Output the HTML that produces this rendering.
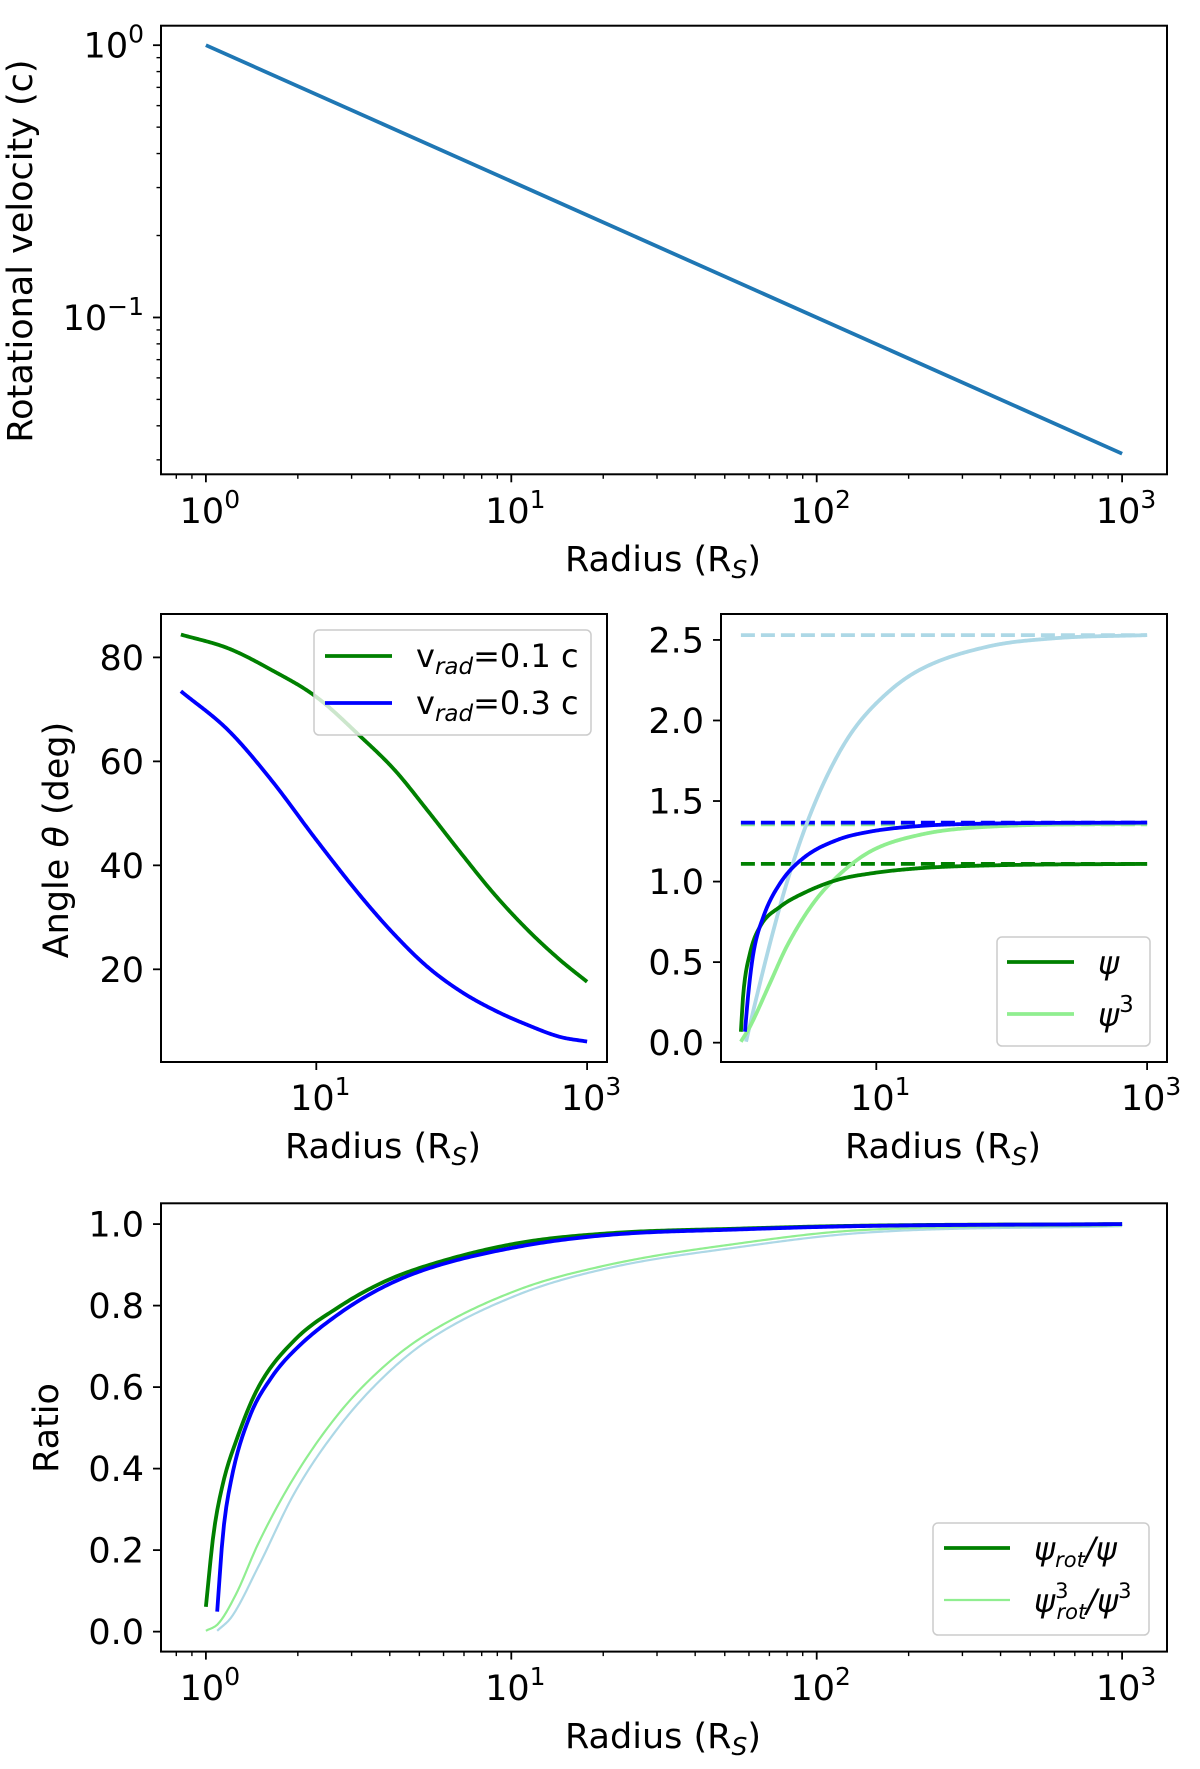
<!DOCTYPE html>
<html><head><meta charset="utf-8">
<style>
html,body{margin:0;padding:0;background:#fff;}
svg{display:block;font-family:"DejaVu Sans","Liberation Sans",sans-serif;}
</style></head>
<body>
<svg id="fig" width="1200" height="1769" viewBox="0 0 1200 1769" xmlns="http://www.w3.org/2000/svg"></svg>
<script>
// ---------- data ----------
const rotLogR = [0, 3];
const rotVel = [1.0, 0.0316];
// panel 2: angle theta vs log10(radius)
const thetaV01R = [0, 0.349, 0.668, 1.0, 1.33, 1.58, 1.82, 2.07, 2.31, 2.56, 2.8, 3];
const thetaV01 = [84.4, 81.75, 77.6, 72.4, 64.7, 58.3, 50.6, 42.3, 34.6, 27.6, 21.8, 17.6];
const thetaV03R = [0, 0.349, 0.668, 1.0, 1.33, 1.58, 1.82, 2.07, 2.31, 2.56, 2.8, 3];
const thetaV03 = [73.5, 66.0, 56.4, 44.9, 34.0, 26.6, 20.5, 15.7, 12.2, 9.3, 7.0, 6.1];
// panel 3: psi curves
const psiGreenR = [0, 0.018, 0.067, 0.141, 0.29, 0.46, 0.71, 0.954, 1.32, 1.82, 3];
const psiGreenV = [0.068, 0.307, 0.555, 0.72, 0.844, 0.927, 1.01, 1.05, 1.083, 1.10, 1.11];
const psiBlueR = [0.03, 0.055, 0.092, 0.166, 0.29, 0.46, 0.71, 0.954, 1.32, 1.82, 3];
const psiBlueV = [0.068, 0.307, 0.555, 0.782, 0.99, 1.145, 1.258, 1.31, 1.345, 1.36, 1.366];
const psi3GreenR = [0, 0.067, 0.215, 0.338, 0.535, 0.71, 0.954, 1.32, 1.82, 3];
const psi3GreenV = [0.006, 0.1, 0.37, 0.596, 0.866, 1.03, 1.186, 1.29, 1.34, 1.36];
const psi3BlueR = [0.038, 0.092, 0.215, 0.338, 0.486, 0.658, 0.83, 1.077, 1.32, 1.82, 2.31, 3];
const psi3BlueV = [0.006, 0.2, 0.617, 0.99, 1.36, 1.693, 1.94, 2.168, 2.314, 2.458, 2.51, 2.53];
const asymptotes = [1.11, 1.355, 1.366, 2.53];
// panel 4: ratios
const ratioGreenR = [0, 0.025, 0.056, 0.1, 0.172, 0.29, 0.436, 0.582, 0.728, 1.02, 1.312, 1.75, 2.14, 3];
const ratioGreenV = [0.061, 0.24, 0.364, 0.47, 0.60, 0.715, 0.797, 0.858, 0.899, 0.953, 0.977, 0.989, 0.996, 1.0];
const ratioBlueR = [0.037, 0.056, 0.085, 0.143, 0.216, 0.29, 0.436, 0.582, 0.728, 1.02, 1.312, 1.75, 2.14, 3];
const ratioBlueV = [0.049, 0.24, 0.38, 0.527, 0.625, 0.69, 0.78, 0.846, 0.891, 0.944, 0.973, 0.987, 0.995, 1.0];
const ratio3GreenR = [0, 0.041, 0.1, 0.172, 0.29, 0.436, 0.582, 0.728, 1.02, 1.312, 1.75, 2.14, 3];
const ratio3GreenV = [0.002, 0.02, 0.094, 0.217, 0.38, 0.536, 0.65, 0.732, 0.838, 0.899, 0.953, 0.985, 0.997];
const ratio3BlueR = [0.037, 0.085, 0.172, 0.29, 0.436, 0.582, 0.728, 1.02, 1.312, 1.75, 2.14, 3];
const ratio3BlueV = [0.002, 0.037, 0.16, 0.34, 0.503, 0.625, 0.715, 0.826, 0.891, 0.944, 0.978, 0.995];
const thetaTicks = [20, 40, 60, 80];
const psiTicks = [0, 0.5, 1.0, 1.5, 2.0, 2.5];
const ratioTicks = [0, 0.2, 0.4, 0.6, 0.8, 1.0];

const NS = "http://www.w3.org/2000/svg";
const svg = document.getElementById('fig');
function el(tag, attrs, parent) {
  const e = document.createElementNS(NS, tag);
  for (const k in attrs) e.setAttribute(k, attrs[k]);
  (parent || svg).appendChild(e);
  return e;
}
function linScale(d0, d1, r0, r1) { return v => r0 + (v - d0) / (d1 - d0) * (r1 - r0); }

function monotone(xs, ys) {
  const n = xs.length, d = [], m = [];
  for (let i = 0; i < n - 1; i++) d.push((ys[i+1]-ys[i])/(xs[i+1]-xs[i]));
  m[0] = d[0]; m[n-1] = d[n-2];
  for (let i = 1; i < n - 1; i++) m[i] = (d[i-1]*d[i] <= 0) ? 0 : (d[i-1]+d[i])/2;
  for (let i = 0; i < n - 1; i++) {
    if (d[i] === 0) { m[i] = 0; m[i+1] = 0; continue; }
    const a = m[i]/d[i], b = m[i+1]/d[i], s = a*a + b*b;
    if (s > 9) { const t = 3/Math.sqrt(s); m[i] = t*a*d[i]; m[i+1] = t*b*d[i]; }
  }
  return x => {
    let i = 0; while (i < n - 2 && x > xs[i+1]) i++;
    const h = xs[i+1]-xs[i], t = (x-xs[i])/h;
    const h00 = 2*t*t*t-3*t*t+1, h10 = t*t*t-2*t*t+t, h01 = -2*t*t*t+3*t*t, h11 = t*t*t-t*t;
    return h00*ys[i]+h10*h*m[i]+h01*ys[i+1]+h11*h*m[i+1];
  };
}
function curvePath(xs, ys, sx, sy) {
  const f = monotone(xs, ys);
  const x0 = xs[0], x1 = xs[xs.length-1];
  let d = '';
  for (let k = 0; k <= 400; k++) {
    const x = x0 + (x1 - x0) * k / 400;
    d += (k ? 'L' : 'M') + sx(x).toFixed(2) + ',' + sy(f(x)).toFixed(2);
  }
  return d;
}

const FS = 35, SUP = 25, LFS = 32;
function logXAxis(g, sx, y, x0, x1, majors, minor, labelY) {
  for (let dec = -1; dec <= 3; dec++) {
    if (minor) for (let k = 2; k <= 9; k++) {
      const lx = dec + Math.log10(k); const px = sx(lx);
      if (px < x0 || px > x1) continue;
      el('line', {x1: px, y1: y, x2: px, y2: y + 4.5, stroke: '#000', 'stroke-width': 1.4}, g);
    }
  }
  majors.forEach(p => {
    const px = sx(p);
    el('line', {x1: px, y1: y, x2: px, y2: y + 8, stroke: '#000', 'stroke-width': 1.8}, g);
    const t = el('text', {x: px + 4, y: labelY, 'font-size': FS, 'text-anchor': 'middle'}, g);
    
    
    t.textContent = '10';
    const s = el('tspan', {'font-size': SUP, dy: -15}, t);
    s.textContent = String(p);
  });
}
function frame(g, x0, y0, x1, y1, name) {
  const r = el('rect', {x: x0, y: y0, width: x1 - x0, height: y1 - y0, fill: 'none', stroke: '#000', 'stroke-width': 2}, g);
  
  
}
function linYTicks(g, sy, x0, ticks, fmt) {
  ticks.forEach(v => {
    const py = sy(v);
    el('line', {x1: x0, y1: py, x2: x0 - 8, y2: py, stroke: '#000', 'stroke-width': 1.8}, g);
    const t = el('text', {x: x0 - 17, y: py + 12.5, 'font-size': FS, 'text-anchor': 'end'}, g);
    
    
    t.textContent = fmt(v);
  });
}
function xlabel(g, cx, y) {
  const t = el('text', {x: cx, y: y, 'font-size': FS, 'text-anchor': 'middle'}, g);
  
  
  t.textContent = 'Radius (R';
  const s = el('tspan', {'font-size': SUP, dy: 7, 'font-style': 'italic'}, t); s.textContent = 'S';
  const s2 = el('tspan', {dy: -7}, t); s2.textContent = ')';
}
function ylabel(g, cx, cy, txt) {
  const t = el('text', {x: 0, y: 0, 'font-size': FS, 'text-anchor': 'middle', transform: `translate(${cx},${cy}) rotate(-90)`}, g);
  
  
  return t;
}
function addPath(g, d, color, w, name, dash) {
  const p = el('path', {d: d, fill: 'none', stroke: color, 'stroke-width': w, 'stroke-linejoin': 'round'}, g);
  if (dash) p.setAttribute('stroke-dasharray', dash);
  
  
  return p;
}
const XL = -0.147, XR = 3.147;

// ---------- panel 1 ----------
{
  const g = el('g', {});
  
  
  const x0 = 161, x1 = 1167, y0 = 25.7, y1 = 474.3;
  const sx = linScale(XL, XR, x0, x1);
  const sy = linScale(-1.576, 0.0716, y1, y0);
  for (let dec = -2; dec <= 0; dec++) for (let k = 1; k <= 9; k++) {
    const lv = dec + Math.log10(k), py = sy(lv);
    if (py < y0 || py > y1) continue;
    const major = k === 1;
    el('line', {x1: x0, y1: py, x2: x0 - (major ? 8 : 4.5), y2: py, stroke: '#000', 'stroke-width': major ? 1.8 : 1.4}, g);
    if (major) {
      const t = el('text', {x: x0 - 17, y: py + 12.5, 'font-size': FS, 'text-anchor': 'end'}, g);
      
      
      t.textContent = '10';
      const s = el('tspan', {'font-size': SUP, dy: -15}, t); s.textContent = dec === 0 ? '0' : '\u2212' + (-dec);
    }
  }
  logXAxis(g, sx, y1, x0, x1, [0, 1, 2, 3], true, 523);
  addPath(g, `M${sx(rotLogR[0])},${sy(Math.log10(rotVel[0]))}L${sx(rotLogR[1])},${sy(Math.log10(rotVel[1]))}`, '#1f77b4', 3.8, 'velocity-line');
  frame(g, x0, y0, x1, y1, 'plot-frame');
  xlabel(g, 663, 571);
  ylabel(g, 32, 251).textContent = 'Rotational velocity (c)';
}

// ---------- panel 2 ----------
{
  const g = el('g', {});
  
  
  const x0 = 161, x1 = 607, y0 = 614, y1 = 1062;
  const sx = linScale(XL, XR, x0, x1);
  const sy = linScale(2.17, 88.35, y1, y0);
  linYTicks(g, sy, x0, thetaTicks, v => String(v));
  logXAxis(g, sx, y1, x0, x1, [1, 3], false, 1110);
  addPath(g, curvePath(thetaV01R, thetaV01, sx, sy), '#008000', 3.8, 'theta-vrad-0.1-line');
  addPath(g, curvePath(thetaV03R, thetaV03, sx, sy), '#0000ff', 3.8, 'theta-vrad-0.3-line');
  frame(g, x0, y0, x1, y1, 'plot-frame');
  xlabel(g, 383, 1158);
  const yl = ylabel(g, 68, 840);
  yl.textContent = 'Angle ';
  const th = el('tspan', {'font-style': 'italic'}, yl); th.textContent = '\u03b8';
  const rest = el('tspan', {}, yl); rest.textContent = ' (deg)';
  const lg = el('g', {});
  
  
  g.appendChild(lg);
  el('rect', {x: 314, y: 630, width: 277, height: 105, rx: 5, fill: 'rgba(255,255,255,0.8)', stroke: '#ccc', 'stroke-width': 1.5}, lg);
  [['#008000', '0.1', 656], ['#0000ff', '0.3', 703]].forEach(([c, v, yy]) => {
    const e = el('g', {}, lg);
    
    
    el('line', {x1: 325, y1: yy, x2: 392, y2: yy, stroke: c, 'stroke-width': 3.8}, e);
    const t = el('text', {x: 416, y: yy + 11, 'font-size': LFS}, e);
    t.textContent = 'v';
    const s = el('tspan', {'font-size': 23, dy: 7, 'font-style': 'italic'}, t); s.textContent = 'rad';
    const s2 = el('tspan', {dy: -7}, t); s2.textContent = '=' + v + ' c';
  });
}

// ---------- panel 3 ----------
{
  const g = el('g', {});
  
  
  const x0 = 721, x1 = 1167, y0 = 614, y1 = 1062;
  const sx = linScale(XL, XR, x0, x1);
  const sy = linScale(-0.12, 2.661, y1, y0);
  linYTicks(g, sy, x0, psiTicks, v => v.toFixed(1));
  logXAxis(g, sx, y1, x0, x1, [1, 3], false, 1110);
  const dashCols = ['#008000', '#90ee90', '#0000ff', '#add8e6'];
  const dashNames = ['psi-green-asymptote', 'psi3-green-asymptote', 'psi-blue-asymptote', 'psi3-blue-asymptote'];
  asymptotes.forEach((a, i) => {
    addPath(g, `M${sx(0)},${sy(a)}L${sx(3)},${sy(a)}`, dashCols[i], 3.8, dashNames[i], '14,6');
  });
  addPath(g, curvePath(psi3BlueR, psi3BlueV, sx, sy), '#add8e6', 3.8, 'psi3-blue-line');
  addPath(g, curvePath(psi3GreenR, psi3GreenV, sx, sy), '#90ee90', 3.8, 'psi3-green-line');
  addPath(g, curvePath(psiGreenR, psiGreenV, sx, sy), '#008000', 3.8, 'psi-green-line');
  addPath(g, curvePath(psiBlueR, psiBlueV, sx, sy), '#0000ff', 3.8, 'psi-blue-line');
  frame(g, x0, y0, x1, y1, 'plot-frame');
  xlabel(g, 943, 1158);
  const lg = el('g', {});
  
  
  g.appendChild(lg);
  el('rect', {x: 997, y: 937, width: 153, height: 109, rx: 5, fill: 'rgba(255,255,255,0.8)', stroke: '#ccc', 'stroke-width': 1.5}, lg);
  [['#008000', '', 962], ['#90ee90', '3', 1014]].forEach(([c, sup, yy]) => {
    const e = el('g', {}, lg);
    
    
    el('line', {x1: 1007, y1: yy, x2: 1074, y2: yy, stroke: c, 'stroke-width': 3.8}, e);
    const t = el('text', {x: 1098, y: yy + 12, 'font-size': LFS, 'font-style': 'italic'}, e);
    t.textContent = '\u03c8';
    if (sup) { const s = el('tspan', {'font-size': 23, dy: -14, 'font-style': 'normal'}, t); s.textContent = sup; }
  });
}

// ---------- panel 4 ----------
{
  const g = el('g', {});
  
  
  const x0 = 161, x1 = 1167, y0 = 1203.3, y1 = 1651.6;
  const sx = linScale(XL, XR, x0, x1);
  const sy = linScale(-0.049, 1.051, y1, y0);
  linYTicks(g, sy, x0, ratioTicks, v => v.toFixed(1));
  logXAxis(g, sx, y1, x0, x1, [0, 1, 2, 3], true, 1700);
  addPath(g, curvePath(ratio3BlueR, ratio3BlueV, sx, sy), '#add8e6', 2.2, 'ratio3-blue-line');
  addPath(g, curvePath(ratio3GreenR, ratio3GreenV, sx, sy), '#90ee90', 2.2, 'ratio3-green-line');
  addPath(g, curvePath(ratioGreenR, ratioGreenV, sx, sy), '#008000', 3.8, 'ratio-green-line');
  addPath(g, curvePath(ratioBlueR, ratioBlueV, sx, sy), '#0000ff', 3.8, 'ratio-blue-line');
  frame(g, x0, y0, x1, y1, 'plot-frame');
  xlabel(g, 663, 1748);
  ylabel(g, 58, 1428).textContent = 'Ratio';
  const lg = el('g', {});
  
  
  g.appendChild(lg);
  el('rect', {x: 933, y: 1523, width: 216, height: 112, rx: 5, fill: 'rgba(255,255,255,0.8)', stroke: '#ccc', 'stroke-width': 1.5}, lg);
  [['#008000', '', 1548, 3.8], ['#90ee90', '3', 1600, 2.2]].forEach(([c, sup, yy, w]) => {
    const e = el('g', {}, lg);
    
    
    el('line', {x1: 944, y1: yy, x2: 1010, y2: yy, stroke: c, 'stroke-width': w}, e);
    const t = el('text', {x: 1034, y: yy + 12, 'font-size': LFS, 'font-style': 'italic'}, e);
    t.textContent = '\u03c8';
    if (sup) { const s = el('tspan', {'font-size': 21, dy: -14, 'font-style': 'normal'}, t); s.textContent = sup;
      const r = el('tspan', {'font-size': 21, dx: -12, dy: 21}, t); r.textContent = 'rot';
      const s3 = el('tspan', {dy: -7}, t); s3.textContent = '/\u03c8';
      const s4 = el('tspan', {'font-size': 21, dy: -14, 'font-style': 'normal'}, t); s4.textContent = '3';
    } else {
      const r = el('tspan', {'font-size': 21, dy: 7}, t); r.textContent = 'rot';
      const s3 = el('tspan', {dy: -7}, t); s3.textContent = '/\u03c8';
    }
  });
}
</script>
</body></html>
